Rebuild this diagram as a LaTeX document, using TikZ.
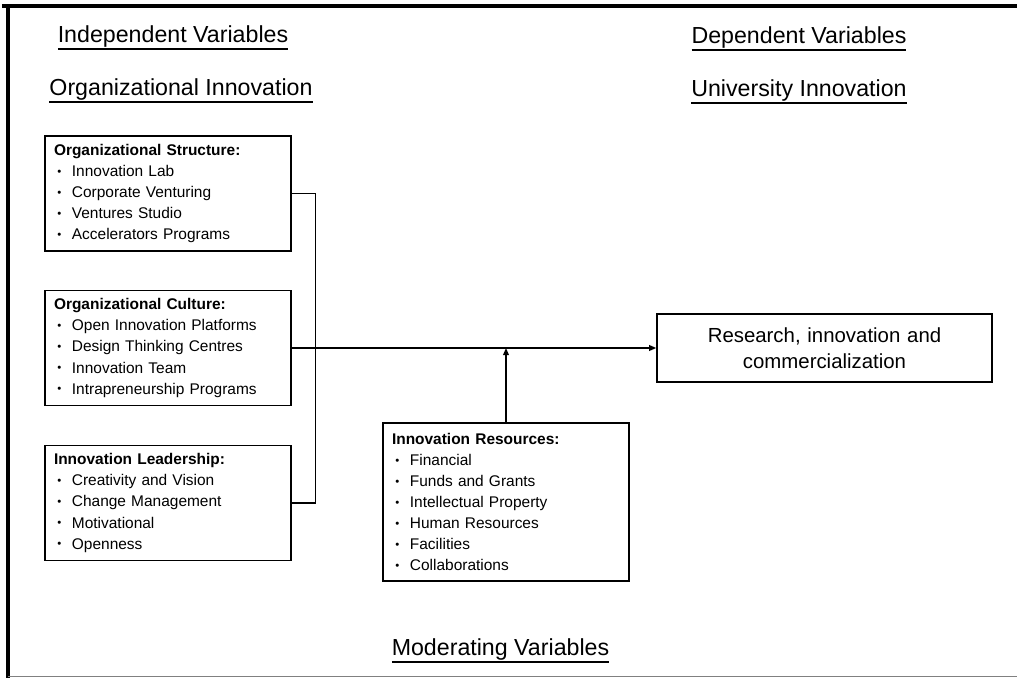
\documentclass[tikz,border=0pt]{standalone}
\usepackage{fontspec}
\setmainfont{Liberation Sans}
\usepackage{tikz}
\usetikzlibrary{arrows.meta,positioning,calc}
\newcommand{\itm}[1]{\makebox[10.2pt][l]{\hspace{1.9pt}\raisebox{0.7pt}{\fontsize{6.5}{6.5}\selectfont\textbullet}}#1}
\newcommand{\ulin}[1]{\vtop{\hbox{#1}\kern0.1pt\hrule height 1pt}}

\begin{document}
\begin{tikzpicture}[
          box/.style={draw=black,line width=0.85pt,text width=4.56cm,
                      inner xsep=0.18cm,inner ysep=0.1cm,minimum height=2.3cm,
                      align=left,font=\fontsize{8.8}{12}\selectfont},
          hd/.style={font=\fontsize{13.2}{15}\selectfont,inner sep=0pt,anchor=base},
          conn/.style={line width=0.85pt},
          tip/.style={-{Triangle[length=4pt,width=3.2pt]}}]
        \useasboundingbox (0,0) rectangle (20.34,13.56);
        % frame
        \draw[line width=2.3pt] (0.16,0) -- (0.16,13.44);
        \draw[line width=2.8pt] (0.04,13.44) -- (20.34,13.44);
        \draw[gray,line width=0.6pt] (0.16,0.03) -- (20.34,0.03);
        % headings
        \node[hd] (iv) at (3.46,12.70) {\ulin{Independent Variables}};
        \node[hd] (oi) at (3.62,11.64) {\ulin{Organizational Innovation}};
        \node[hd] (dv) at (15.98,12.68) {\ulin{Dependent Variables}};
        \node[hd] (ui) at (15.98,11.62) {\ulin{University Innovation}};
        \node[hd] (mv) at (10.01,0.44) {\ulin{Moderating Variables}};
        % independent variables
        \node[box] (str) at (3.36,9.69) {\textbf{Organizational Structure:}\\
          \itm{Innovation Lab}\\ \itm{Corporate Venturing}\\
          \itm{Ventures Studio}\\ \itm{Accelerators Programs}};
        \node[box] (cult) at (3.36,6.60) {\textbf{Organizational Culture:}\\
          \itm{Open Innovation Platforms}\\ \itm{Design Thinking Centres}\\
          \itm{Innovation Team}\\ \itm{Intrapreneurship Programs}};
        \node[box] (lead) at (3.36,3.50) {\textbf{Innovation Leadership:}\\
          \itm{Creativity and Vision}\\ \itm{Change Management}\\
          \itm{Motivational}\\ \itm{Openness}};
        % moderating variables
        \node[box,minimum height=3.16cm] (res) at (10.12,3.52)
          {\textbf{Innovation Resources:}\\ \itm{Financial}\\
          \itm{Funds and Grants}\\ \itm{Intellectual Property}\\
          \itm{Human Resources}\\ \itm{Facilities}\\ \itm{Collaborations}};
        % dependent variable
        \node[draw=black,line width=0.85pt,text width=6.4cm,inner xsep=0.15cm,
              minimum height=1.36cm,align=center,
              font=\fontsize{11.6}{14.8}\selectfont] (outc) at (16.49,6.60)
          {Research, innovation and\\ commercialization};
        % connectors
        \path (str.east) ++(0.48,0) coordinate (bt);
        \draw[conn] (str.east) -- (bt) |- (lead.east);
        \draw[conn,tip] (cult.east) -- (outc.west);
        \draw[conn,tip] (res.north) -- (res.north |- cult.east);
      \end{tikzpicture}
\end{document}
